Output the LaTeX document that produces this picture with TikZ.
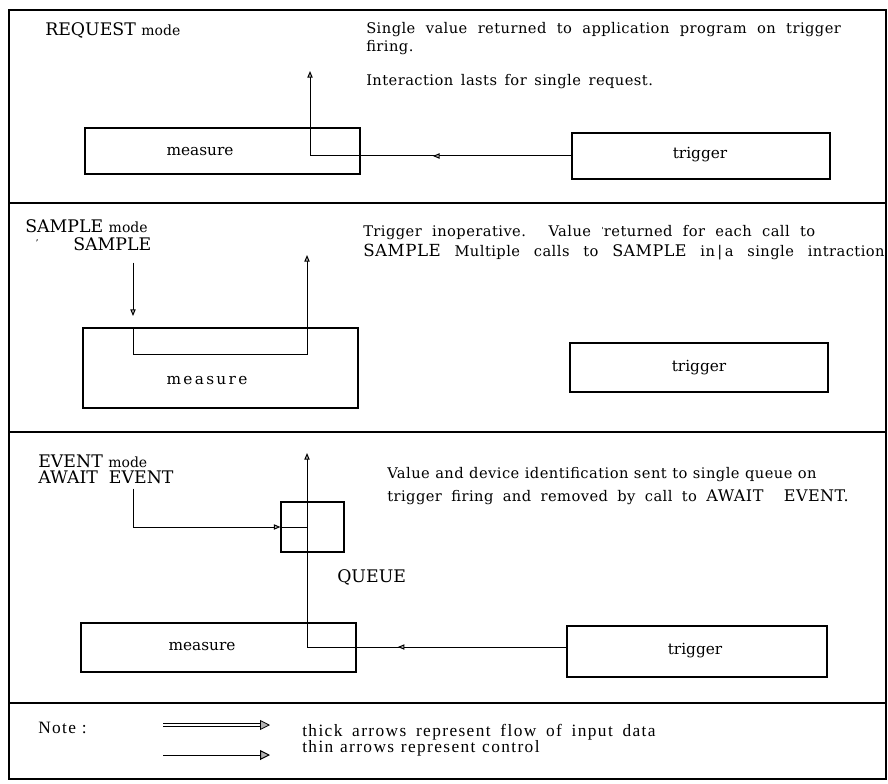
\documentclass[tikz,border=0pt]{standalone}
\usepackage{fontspec}
\setmainfont{DejaVu Serif}
\newfontfamily\notefont[LetterSpace=8]{Liberation Serif}
\newfontfamily\spacedfont[LetterSpace=15]{DejaVu Serif}
\newfontfamily\descfam[LetterSpace=3]{DejaVu Serif}
\usetikzlibrary{arrows.meta,calc,fit,decorations.markings}
\newcommand{\capfont}{\fontsize{13}{15}\selectfont}
\newcommand{\modefont}{\fontsize{10.5}{12}\selectfont}
\newcommand{\descfont}{\descfam\fontsize{11}{13}\selectfont}
\tikzset{
  frameline/.style={line width=0.9pt},
  boxnode/.style={draw, line width=0.8pt, inner sep=0pt},
  ctip/.tip={Triangle[length=5pt,width=4pt,fill=gray!50]},
  ctrl/.style={line width=0.75pt, -ctip},
  wire/.style={line width=0.75pt},
  midtip/.style={postaction={decorate}, decoration={markings, mark=at position #1 with {\arrow{ctip}}}},
  modelbl/.style={anchor=base west, inner sep=0pt, font=\capfont},
  desc/.style={anchor=base west, inner sep=0pt, font=\descfont},
  lbl/.style={inner sep=0pt, font=\fontsize{11.5}{13}\selectfont},
  notetext/.style={anchor=base west, inner sep=0pt, font=\notefont\fontsize{13}{15}\selectfont},
  ntip/.tip={Triangle[length=7.5pt,width=7.5pt,fill=gray!60]}
}
\begin{document}
\begin{tikzpicture}[x=0.75pt,y=-0.75pt]
\useasboundingbox (0,0) rectangle (888,784);
% frame
\draw[frameline] (9,10) rectangle (886,779);
\draw[frameline] (9,203) -- (886,203);
\draw[frameline] (9,432) -- (886,432);
\draw[frameline] (9,703) -- (886,703);

% ---------- REQUEST ----------
\node[modelbl] (req) at (45,36) {REQUEST {\modefont mode}};
\node[boxnode, fit={(85,128) (360,174)}] (m1) {};
\node[lbl] (m1l) at (200,152) {measure};
\node[boxnode, fit={(572,133) (830,179)}] (t1) {};
\node[lbl] (t1l) at (700,155) {trigger};
\coordinate (r1) at (310,71);
\draw[wire, midtip=0.53] (t1.west) -- (t1.west -| r1);
\draw[ctrl] (t1.west -| r1) -- (r1);
\node[desc] (d1a) at (366,34) {\makebox[356pt][s]{Single value returned to application program on trigger}};
\node[desc] (d1b) at (366,52) {firing.};
\node[desc] (d1c) at (366,86) {\makebox[215pt][s]{Interaction lasts for single request.}};

% ---------- SAMPLE ----------
\node[modelbl] (smode) at (25,233) {SAMPLE {\modefont mode}};
\node[inner sep=0pt, font=\fontsize{7}{7}\selectfont] (tick) at (37,243) {'};
\node[modelbl] (scall) at (73,250) {SAMPLE};
\node[boxnode, fit={(83,328) (358,408)}] (m2) {};
\node[lbl, font=\spacedfont\fontsize{11.5}{13}\selectfont] (m2l) at (207,381) {measure};
\node[boxnode, fit={(570,343) (828,392)}] (t2) {};
\node[lbl] (t2l) at (699,368) {trigger};
\coordinate (s2in) at (133,316);
\coordinate (s2a) at (133,354);
\coordinate (s2b) at (307,354);
\coordinate (s2out) at (307,255);
\draw[ctrl] ($(scall.south -| s2in)+(0,12)$) -- (s2in);
\draw[ctrl] (m2.north -| s2a) -- (s2a) -- (s2b) -- (s2out);
\node[desc] (d2a) at (363,237) {\makebox[339pt][s]{Trigger inoperative. Value \raisebox{2pt}{\fontsize{7}{7}\selectfont ˈ}returned for each call to}};
\node[desc] (d2b) at (363,257) {\makebox[391pt][s]{{\fontsize{12.5}{14}\selectfont SAMPLE} Multiple calls to {\fontsize{12}{14}\selectfont SAMPLE} in\,|\,a single intraction}};

% ---------- EVENT ----------
\node[modelbl] (emode) at (38,467) {EVENT {\modefont mode}};
\node[modelbl] (await) at (38,483) {AWAIT\ \ EVENT};
\node[boxnode, fit={(281,502) (344,552)}] (q) {};
\node[modelbl] (qlbl) at (337,582) {QUEUE};
\node[boxnode, fit={(81,623) (356,672)}] (m3) {};
\node[lbl] (m3l) at (202,647) {measure};
\node[boxnode, fit={(567,626) (827,677)}] (t3) {};
\node[lbl] (t3l) at (695,651) {trigger};
\coordinate (e3a) at (133,527);
\coordinate (v3) at (307,647);
\coordinate (v3top) at (307,453);
\draw[ctrl] ($(await.south -| e3a)+(0,5)$) -- (e3a) -- (q.west);
\draw[wire] (q.west) -- (q.west -| v3);
\draw[wire, midtip=0.65] (t3.west |- v3) -- (v3);
\draw[ctrl] (v3) -- (v3top);
\node[desc] (d3a) at (387,478) {\makebox[322pt][s]{Value and device identification sent to single queue on}};
\node[desc] (d3b) at (387,501) {\makebox[346pt][s]{trigger firing and removed by call to {\fontsize{12}{14}\selectfont AWAIT\ \ EVENT.}}};

% ---------- NOTE ----------
\node[notetext] (note) at (38,733) {Note :};
\coordinate (n1a) at (163,725);
\coordinate (n1b) at (270,725);
\coordinate (n2a) at (163,755);
\coordinate (n2b) at (270,755);
\draw[line width=0.6pt, double, double distance=1.4pt, shorten >=7pt] (n1a) -- (n1b);
\draw[line width=0.6pt, -ntip] ($(n1b)+(-10.5,0)$) -- (n1b);
\draw[line width=0.75pt, -ntip] (n2a) -- (n2b);
\node[notetext] (nt1) at (302,736) {\makebox[265pt][s]{thick arrows represent flow of input data}};
\node[notetext] (nt2) at (302,752) {\makebox[178pt][s]{thin arrows represent control}};
\end{tikzpicture}
\end{document}
